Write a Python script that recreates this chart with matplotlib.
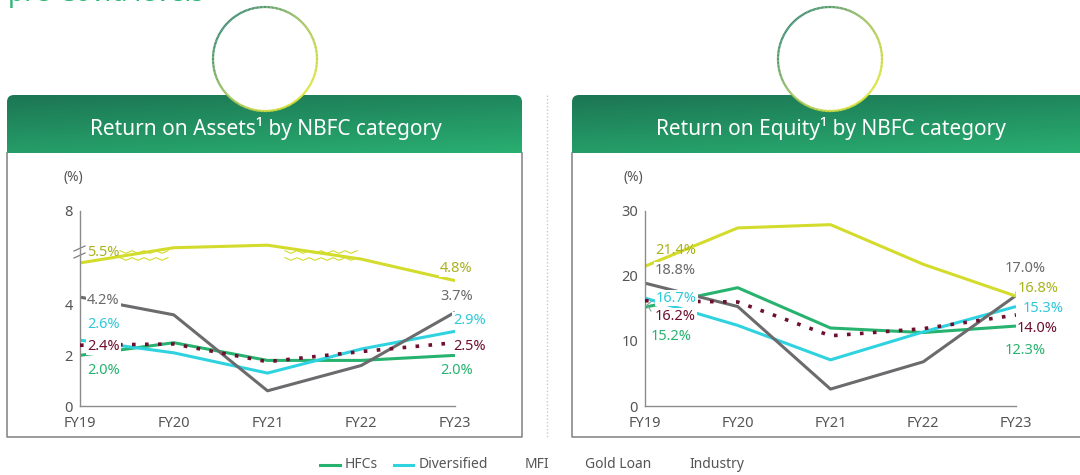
import numpy as np
import matplotlib.pyplot as plt
from matplotlib.patches import FancyBboxPatch, Rectangle, Circle
from matplotlib.collections import LineCollection
from matplotlib.colors import LinearSegmentedColormap

plt.rcParams['font.family'] = ['Noto Sans', 'DejaVu Sans']

# data
years = ["FY19", "FY20", "FY21", "FY22", "FY23"]
series = ["HFCs", "Diversified", "MFI", "Gold Loan", "Industry"]
colors = ["#27b36f", "#2fd3e0", "#6b6b6e", "#d3dc2c", "#6e0f30"]
label_colors = ["#27b36f", "#2fc9d8", "#6b6b6e", "#aab31e", "#6e0f30"]

# return on assets (%), gold loan drawn above the axis break
roa_hfc = [2.0, 2.5, 1.8, 1.8, 2.0]
roa_div = [2.6, 2.1, 1.3, 2.25, 2.95]
roa_mfi = [4.3, 3.6, 0.6, 1.6, 3.7]
roa_gold = [5.65, 6.25, 6.35, 5.8, 4.95]
roa_ind = [2.4, 2.45, 1.75, 2.15, 2.5]

# return on equity (%)
roe_hfc = [15.2, 18.2, 12.0, 11.3, 12.3]
roe_div = [16.6, 12.4, 7.1, 11.4, 15.3]
roe_mfi = [18.9, 15.3, 2.6, 6.8, 17.0]
roe_gold = [21.5, 27.4, 27.9, 21.8, 16.9]
roe_ind = [16.2, 16.0, 10.8, 11.9, 14.0]

roa_first = ["2.0%", "2.6%", "4.2%", "5.5%", "2.4%"]
roa_last = ["2.0%", "2.9%", "3.7%", "4.8%", "2.5%"]
roe_first = ["15.2%", "16.7%", "18.8%", "21.4%", "16.2%"]
roe_last = ["12.3%", "15.3%", "17.0%", "16.8%", "14.0%"]

W, H = 1080, 475
fig = plt.figure(figsize=(W / 100, H / 100), dpi=100)
bg = fig.add_axes([0, 0, 1, 1], zorder=0)
bg.set_xlim(0, W)
bg.set_ylim(H, 0)
bg.axis("off")


def px_axes(x0, y0, x1, y1):
    a = fig.add_axes([x0 / W, 1 - y1 / H, (x1 - x0) / W, (y1 - y0) / H], zorder=1)
    a.set_facecolor("none")
    return a


band_cmap = LinearSegmentedColormap.from_list("band", ["#1c7654", "#2cba77"])
ring_cmap = LinearSegmentedColormap.from_list("ring", ["#3d8c6c", "#9fc25a", "#dbe336"])


def panel(x0, x1, title, cx):
    # green header with rounded top corners
    patch = FancyBboxPatch((x0, 95), x1 - x0, 75, boxstyle="round,pad=0,rounding_size=7",
                           fc="none", ec="none")
    bg.add_patch(patch)
    yy, xx = np.mgrid[0:1:60j, 0:1:200j]
    img = bg.imshow(0.75 * yy + 0.25 * xx, cmap=band_cmap, extent=[x0, x1, 170, 95],
                    origin="upper", aspect="auto", zorder=1)
    img.set_clip_path(patch)
    bg.add_patch(Rectangle((x0, 153), x1 - x0, 290, fc="white", ec="none", zorder=2))
    bg.plot([x0, x0, x1, x1], [153, 437, 437, 153], color="#808080", lw=1.1, zorder=3)
    bg.text(cx + 1, 128, title, color="white", fontsize=15, ha="center", va="center", zorder=4)
    # circle with gradient rim
    r = 52
    bg.add_patch(Circle((cx, 59), r, fc="white", ec="none", zorder=5))
    t = np.linspace(0, 2 * np.pi, 241)
    xs, ys = cx + r * np.cos(t), 59 + r * np.sin(t)
    segs = np.stack([np.column_stack([xs[:-1], ys[:-1]]), np.column_stack([xs[1:], ys[1:]])], axis=1)
    tm = (t[:-1] + t[1:]) / 2
    f = (0.707 * np.cos(tm) + 0.707 * np.sin(tm) + 1) / 2
    bg.add_collection(LineCollection(segs, colors=ring_cmap(f), lw=1.6, zorder=6))


bg.text(8, 1, "pre-Covid levels", color="#2bb673", fontsize=19, ha="left", va="baseline")
panel(7, 522, "Return on Assets\u00b9 by NBFC category", 265)
panel(572, 1095, "Return on Equity\u00b9 by NBFC category", 830)
bg.plot([547, 547], [95, 437], color="#c8c8c8", lw=1, ls=(0, (1, 1.5)))


def chart(ax, data, ymax, yticks, yticklabels):
    for vals, c, name in zip(data, colors, series):
        if name == "Industry":
            ax.plot(range(len(years)), vals, color=c, lw=2.6, ls=(0, (1, 2.6)),
                    dash_capstyle="butt", zorder=3)
        else:
            ax.plot(range(len(years)), vals, color=c, lw=2.2, solid_capstyle="butt", zorder=2)
    ax.set_xlim(0, 4)
    ax.set_ylim(0, ymax)
    ax.set_xticks(range(len(years)))
    ax.set_xticklabels(years)
    ax.set_yticks(yticks)
    ax.set_yticklabels(yticklabels)
    for s in ["top", "right"]:
        ax.spines[s].set_visible(False)
    for s in ["left", "bottom"]:
        ax.spines[s].set_color("#8c8c8c")
        ax.spines[s].set_linewidth(1)
    ax.tick_params(length=0, labelsize=10.5, labelcolor="#555555")
    ax.tick_params(axis="x", pad=7)
    ax.tick_params(axis="y", pad=5)


ax1 = px_axes(80, 211, 455, 406)
chart(ax1, [roa_hfc, roa_div, roa_mfi, roa_gold, roa_ind], 7.7, [0, 2, 4, 7.7], ["0", "2", "4", "8"])
ax2 = px_axes(645, 211, 1016, 406)
chart(ax2, [roe_hfc, roe_div, roe_mfi, roe_gold, roe_ind], 30, [0, 10, 20, 30], ["0", "10", "20", "30"])

bg.text(73, 177, "(%)", color="#555555", fontsize=10, ha="center", va="center", zorder=4)
bg.text(633, 177, "(%)", color="#555555", fontsize=10, ha="center", va="center", zorder=4)

# end-point labels: (x, y) in pixels per series order HFC, Div, MFI, Gold, Industry
roa_first_pos = [(87, 371), (87, 325), (87, 300), (87, 252), (87, 347)]
roa_last_pos = [(440, 371), (453, 320), (440, 297), (440, 269), (453, 346)]
roe_first_pos = [(651, 336), (656, 298), (655, 270), (655, 251), (655, 316)]
roe_last_pos = [(1005, 350), (1023, 309), (1005, 268), (1018, 288), (1017, 329)]

for ax, labs, pos in [(ax1, roa_first, roa_first_pos), (ax1, roa_last, roa_last_pos),
                      (ax2, roe_first, roe_first_pos), (ax2, roe_last, roe_last_pos)]:
    for lab, (x, y), c in zip(labs, pos, label_colors):
        box = None if lab in ("21.4%", "5.5%") else dict(fc="white", ec="none", pad=0.6)
        ax.text(x, y, lab, color=c, fontsize=10.5, ha="left", va="center",
                transform=bg.transData, zorder=6, bbox=box)

# axis break marks on ROA chart
for yb in (248, 255):
    bg.plot([74, 85], [yb + 3, yb - 2], color="#808080", lw=0.9, zorder=5)
for xa, xb in [(120, 172), (285, 358)]:
    zx = np.arange(xa, xb + 1, 6)
    for yb in (252, 259):
        zy = yb + np.where(np.arange(len(zx)) % 2 == 0, -1.3, 1.3)
        ax1.plot(zx, zy, color="#d3dc2c", lw=0.8, transform=bg.transData, zorder=4)

# leader lines on ROE chart
ax2.plot([1020, 1016], [277, 293], color="#6b6b6e", lw=0.8, transform=bg.transData, zorder=4)
ax2.plot([652, 647, 651], [301, 305, 311], color="#7aa890", lw=0.8, transform=bg.transData, zorder=4)

# legend
leg_text_x = [345, 419, 525, 585, 689]
leg_line_x = [(320, 340), (394, 413), None, None, None]
for name, tx, lx, c in zip(series, leg_text_x, leg_line_x, colors):
    if lx is not None:
        bg.plot(lx, [465, 465], color=c, lw=2.2)
    bg.text(tx, 465, name, color="#555555", fontsize=10, ha="left", va="center")

fig.savefig("out.png", dpi=100)
